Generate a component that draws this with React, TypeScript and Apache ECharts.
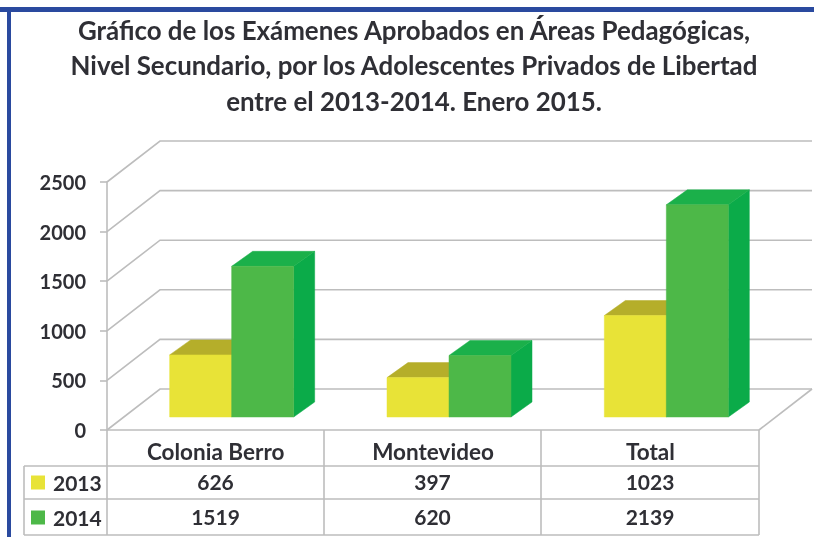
import React, { useEffect, useRef } from "react";
import * as echarts from "echarts";

const titleLines = [
  "Gráfico de los Exámenes Aprobados en Áreas Pedagógicas,",
  "Nivel Secundario, por los Adolescentes Privados de Libertad",
  "entre el 2013-2014. Enero 2015.",
];
const categories = ["Colonia Berro", "Montevideo", "Total"];
const values2013 = [626, 397, 1023];
const values2014 = [1519, 620, 2139];
const yTicks = [0, 500, 1000, 1500, 2000, 2500];

const FONT = "Lato";
const TEXT = "#2f2f35";
const GRID = "#bdbdbd";
const WALL_DX = 53;
const WALL_DY = 41;
const FLOOR_DX = 21;
const FLOOR_DY = 15;
const BAR_W = 62;
const BAR_SHIFT = 16;
const BASE_LIFT = 13;

const COL_X = [107, 324, 541, 759];
const ROW_Y = [430, 466, 499, 535];
const TABLE_LEFT = 24;

function barRenderer(startOffset: number, front: string, top: string, side: string) {
  return (params: any, api: any) => {
    const cat = api.value(0);
    const val = api.value(1);
    const [cx, yTop0] = api.coord([cat, val]);
    const [, yZero] = api.coord([cat, 0]);
    const x0 = cx + BAR_SHIFT + startOffset;
    const x1 = x0 + BAR_W;
    const yb = yZero - BASE_LIFT;
    const yt = yTop0 - BASE_LIFT;
    const poly = (points: number[][], fill: string) => ({
      type: "polygon",
      shape: { points },
      style: { fill, stroke: fill, lineWidth: 0.5 },
    });
    return {
      type: "group",
      children: [
        poly([[x1, yb], [x1 + FLOOR_DX, yb - FLOOR_DY], [x1 + FLOOR_DX, yt - FLOOR_DY], [x1, yt]], side),
        poly([[x0, yt], [x0 + FLOOR_DX, yt - FLOOR_DY], [x1 + FLOOR_DX, yt - FLOOR_DY], [x1, yt]], top),
        poly([[x0, yb], [x1, yb], [x1, yt], [x0, yt]], front),
      ],
    };
  };
}

function wallRenderer(params: any, api: any) {
  const cs = params.coordSys;
  const [, y] = api.coord([0, api.value(0)]);
  const left = cs.x;
  const right = cs.x + cs.width;
  const points = [[left, y], [left + WALL_DX, y - WALL_DY], [right + WALL_DX, y - WALL_DY]];
  const children: any[] = [
    { type: "polyline", shape: { points }, style: { fill: "none", stroke: GRID, lineWidth: 1.6 } },
  ];
  if (api.value(0) === 0) {
    children.push({
      type: "polyline",
      shape: { points: [[right, y], [right + WALL_DX, y - WALL_DY]] },
      style: { fill: "none", stroke: GRID, lineWidth: 1.6 },
    });
  }
  return { type: "group", children };
}

export default function App() {
  const ref = useRef<HTMLDivElement>(null);

  useEffect(() => {
    const chart = echarts.init(ref.current!, undefined, { renderer: "svg" });

    const tableLines: any[] = [];
    const line = (x1: number, y1: number, x2: number, y2: number) =>
      tableLines.push({
        type: "line",
        shape: { x1, y1, x2, y2 },
        style: { stroke: GRID, lineWidth: 1.6 },
      });
    COL_X.forEach((x) => line(x, ROW_Y[0], x, ROW_Y[3]));
    line(TABLE_LEFT, ROW_Y[1], TABLE_LEFT, ROW_Y[3]);
    line(TABLE_LEFT, ROW_Y[1], COL_X[3], ROW_Y[1]);
    line(TABLE_LEFT, ROW_Y[2], COL_X[3], ROW_Y[2]);
    line(TABLE_LEFT, ROW_Y[3], COL_X[3], ROW_Y[3]);

    const cellTexts: any[] = [];
    [values2013, values2014].forEach((row, r) =>
      row.forEach((v, c) =>
        cellTexts.push({
          type: "text",
          x: (COL_X[c] + COL_X[c + 1]) / 2,
          y: (ROW_Y[r + 1] + ROW_Y[r + 2]) / 2 - 1,
          style: {
            text: String(v),
            fill: TEXT,
            font: `bold 21px ${FONT}`,
            textAlign: "center",
            textVerticalAlign: "middle",
          },
        })
      )
    );

    chart.setOption({
      animation: false,
      backgroundColor: "#ffffff",
      title: {
        text: titleLines.join("\n"),
        left: 409,
        top: 7,
        textAlign: "center",
        textStyle: {
          fontFamily: FONT,
          fontWeight: "bold",
          fontSize: 25.9,
          lineHeight: 35.5,
          color: TEXT,
        },
      },
      legend: {
        data: ["2013", "2014"],
        orient: "vertical",
        left: 31,
        top: 472,
        itemWidth: 14,
        itemHeight: 14,
        itemGap: 14,
        icon: "rect",
        padding: 0,
        selectedMode: false,
        textStyle: {
          fontFamily: FONT,
          fontWeight: "bold",
          fontSize: 21,
          color: TEXT,
          padding: [0, 0, 0, 3],
        },
      },
      grid: { left: 107, right: 55, top: 182, bottom: 107 },
      xAxis: {
        type: "category",
        data: categories,
        axisLine: { show: false },
        axisTick: { show: false },
        axisLabel: {
          margin: 10,
          fontFamily: FONT,
          fontWeight: "bold",
          fontSize: 22.5,
          color: TEXT,
        },
      },
      yAxis: {
        type: "value",
        min: 0,
        max: 2500,
        interval: 500,
        splitLine: { show: false },
        axisLine: { show: true, lineStyle: { color: GRID, width: 1.6 } },
        axisTick: { show: true, length: 7, lineStyle: { color: GRID, width: 1.6 } },
        axisLabel: {
          margin: 21,
          formatter: (v: number) => String(v),
          fontFamily: FONT,
          fontWeight: "bold",
          fontSize: 20,
          color: TEXT,
        },
      },
      series: [
        {
          type: "custom",
          name: "walls",
          data: yTicks.map((t) => [t]),
          encode: { y: 0 },
          renderItem: wallRenderer,
          silent: true,
          z: 1,
        },
        {
          type: "custom",
          name: "2013",
          itemStyle: { color: "#e8e337" },
          data: values2013.map((v, i) => [i, v]),
          encode: { x: 0, y: 1 },
          renderItem: barRenderer(-BAR_W, "#e8e337", "#b5ae2a", "#b5ae2a"),
          z: 2,
        },
        {
          type: "custom",
          name: "2014",
          itemStyle: { color: "#4db848" },
          data: values2014.map((v, i) => [i, v]),
          encode: { x: 0, y: 1 },
          renderItem: barRenderer(0, "#4db848", "#1bb04a", "#0bab49"),
          z: 3,
        },
      ],
      graphic: [
        { type: "rect", shape: { x: 0, y: 7, width: 814, height: 5 }, style: { fill: "#2a4a9f" } },
        { type: "rect", shape: { x: 7, y: 7, width: 4, height: 530 }, style: { fill: "#2a4a9f" } },
        { type: "line", shape: { x1: COL_X[0], y1: ROW_Y[0], x2: COL_X[3], y2: ROW_Y[0] }, style: { stroke: GRID, lineWidth: 1.6 } },
        ...tableLines,
        ...cellTexts,
      ],
    });

    return () => chart.dispose();
  }, []);

  return (
    <div
      ref={ref}
      style={{ position: "absolute", left: 0, top: 0, width: 814, height: 537, filter: "blur(0.5px)" }}
    />
  );
}
